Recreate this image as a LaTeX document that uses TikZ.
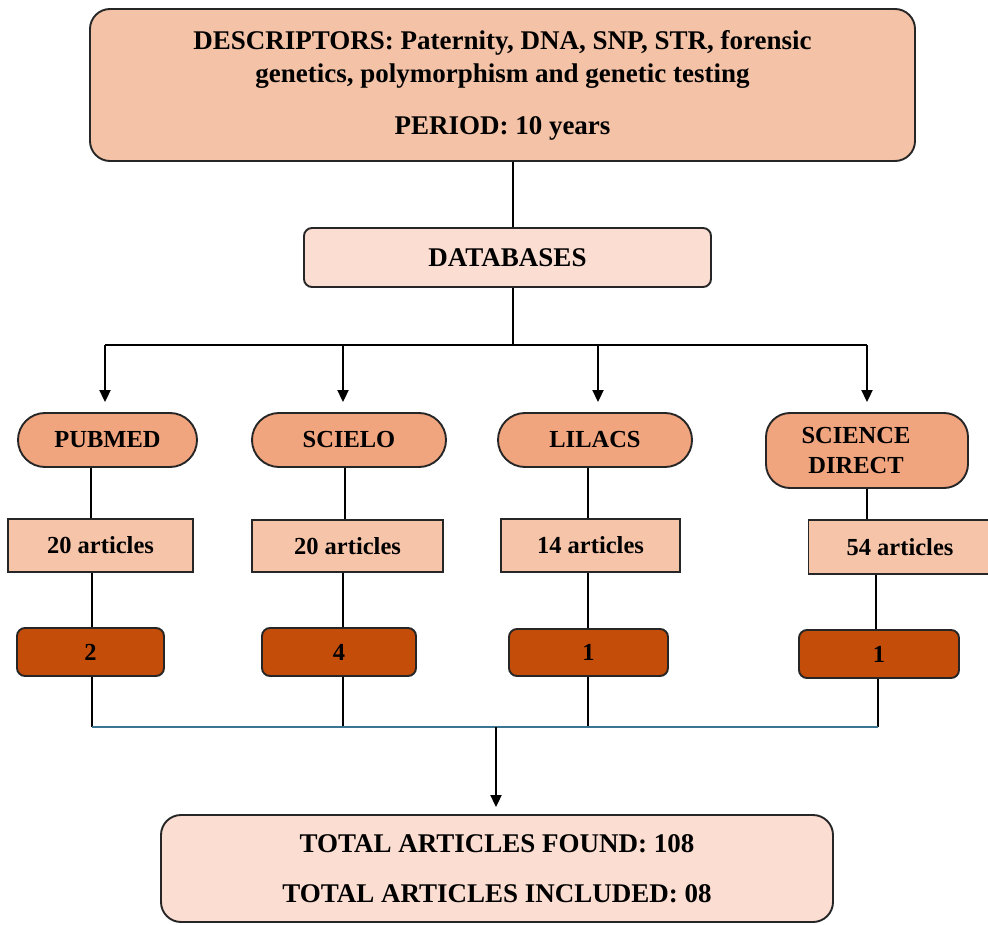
\documentclass[tikz,border=0pt]{standalone}
\usepackage{fontspec}
\setmainfont{Liberation Serif}
\usetikzlibrary{arrows.meta}
\definecolor{topfill}{HTML}{F4C2A6}
\definecolor{dbfill}{HTML}{FBDDD1}
\definecolor{pillfill}{HTML}{F1A57F}
\definecolor{artfill}{HTML}{F6C4A9}
\definecolor{darkfill}{HTML}{C44D0A}
\definecolor{botfill}{HTML}{FBDDD2}
\definecolor{busblue}{HTML}{3A7490}
\tikzset{
  x=1pt,y=1pt,
  bigfont/.style={font=\fontsize{27}{33}\selectfont\bfseries},
  smallfont/.style={font=\fontsize{24.5}{30}\selectfont\bfseries},
  boxline/.style={draw=black!85,line width=1.9pt},
  topbox/.style={boxline,fill=topfill,rounded corners=20pt,minimum width=825pt,minimum height=152pt,align=center,bigfont,inner sep=0pt},
  dbbox/.style={boxline,fill=dbfill,rounded corners=8pt,minimum width=407pt,minimum height=59pt,bigfont,inner sep=0pt},
  pillbox/.style={boxline,fill=pillfill,rounded corners=27pt,minimum height=54pt,smallfont,inner sep=0pt,align=center},
  artbox/.style={boxline,fill=artfill,minimum height=53pt,smallfont,inner sep=0pt},
  darkbox/.style={boxline,fill=darkfill,rounded corners=8pt,minimum height=48pt,smallfont,inner sep=0pt},
  botbox/.style={boxline,fill=botfill,rounded corners=20pt,minimum width=672pt,minimum height=107pt,align=center,bigfont,inner sep=0pt},
  conn/.style={draw=black,line width=2pt},
  arr/.style={conn,-{Triangle[length=12pt,width=11pt]}},
  bus/.style={draw=busblue,line width=2.6pt}
}
\begin{document}
\begin{tikzpicture}
\useasboundingbox (0,0) rectangle (988,-925);
% top nodes
\node[topbox] (top) at (502.5,-85) {DESCRIPTORS: Paternity, DNA, SNP, STR, forensic\\genetics, polymorphism and genetic testing\\[19pt]PERIOD: 10 years};
\node[dbbox] (db) at (507.5,-257.5) {DATABASES};
% databases
\node[pillbox,minimum width=179pt] (p1) at (107.5,-440) {PUBMED};
\node[pillbox,minimum width=194pt] (p2) at (349,-440) {SCIELO};
\node[pillbox,minimum width=194pt] (p3) at (595,-440) {LILACS};
\node[pillbox,minimum width=202pt,minimum height=75pt,rounded corners=24pt] (p4) at (867,-450.5) {\hspace*{-22pt}SCIENCE\\\hspace*{-22pt}DIRECT};
% articles
\node[artbox,minimum width=185pt] (a1) at (100.5,-545.5) {20 articles};
\node[artbox,minimum width=191pt,minimum height=52pt] (a2) at (347.5,-546) {20 articles};
\node[artbox,minimum width=179pt] (a3) at (590.5,-545.5) {14 articles};
\node[artbox,minimum width=183pt,minimum height=54pt] (a4) at (900,-547) {54 articles};
% included
\node[darkbox,minimum width=147pt] (d1) at (90.5,-652) {2};
\node[darkbox,minimum width=154pt] (d2) at (339,-652) {4};
\node[darkbox,minimum width=159pt,minimum height=47pt] (d3) at (588.5,-652.5) {1};
\node[darkbox,minimum width=160pt] (d4) at (879,-654) {1};
% bottom
\node[botbox] (bot) at (497,-868.5) {TOTAL ARTICLES FOUND: 108\\[17pt]TOTAL ARTICLES INCLUDED: 08};
% trunk coordinates
\coordinate (tr) at (513,-345);
\coordinate (b1) at (105,-345);
\coordinate (b2) at (343,-345);
\coordinate (b3) at (598,-345);
\coordinate (b4) at (867,-345);
\draw[conn] (top.south -| tr) -- (db.north -| tr);
\draw[conn] (db.south -| tr) -- (tr);
\draw[conn] (b1) -- (b4);
\draw[arr,shorten >=10pt] (b1) -- (b1 |- p1.north);
\draw[arr,shorten >=10pt] (b2) -- (b2 |- p2.north);
\draw[arr,shorten >=10pt] (b3) -- (b3 |- p3.north);
\draw[arr,shorten >=10pt] (b4) -- (b4 |- p4.north);
% pill to articles
\coordinate (u1) at (91,-500);
\coordinate (u2) at (345,-500);
\coordinate (u3) at (588,-500);
\coordinate (u4) at (867,-500);
\draw[conn] (u1 |- p1.south) -- (u1 |- a1.north);
\draw[conn] (u2 |- p2.south) -- (u2 |- a2.north);
\draw[conn] (u3 |- p3.south) -- (u3 |- a3.north);
\draw[conn] (u4 |- p4.south) -- (u4 |- a4.north);
% articles to included
\coordinate (w1) at (92,-600);
\coordinate (w2) at (343,-600);
\coordinate (w3) at (588,-600);
\coordinate (w4) at (876,-600);
\draw[conn] (w1 |- a1.south) -- (w1 |- d1.north);
\draw[conn] (w2 |- a2.south) -- (w2 |- d2.north);
\draw[conn] (w3 |- a3.south) -- (w3 |- d3.north);
\draw[conn] (w4 |- a4.south) -- (w4 |- d4.north);
% included to bus
\coordinate (m1) at (92,-727);
\coordinate (m2) at (343,-727);
\coordinate (m3) at (588,-727);
\coordinate (m4) at (878,-727);
\coordinate (mc) at (496,-727);
\draw[conn] (m1 |- d1.south) -- (m1);
\draw[conn] (m2 |- d2.south) -- (m2);
\draw[conn] (m3 |- d3.south) -- (m3);
\draw[conn] (m4 |- d4.south) -- (m4);
\draw[bus] (m1) -- (m4);
\draw[arr,shorten >=7pt] (mc) -- (mc |- bot.north);
\end{tikzpicture}
\end{document}
